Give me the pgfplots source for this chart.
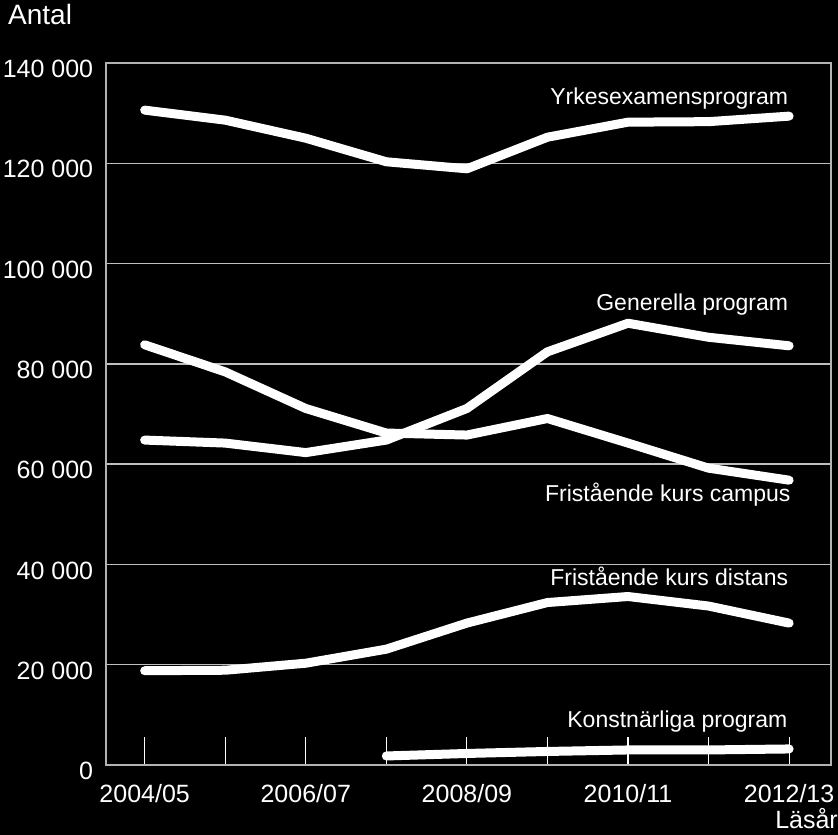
\documentclass[border=0pt]{standalone}
\usepackage{pgfplots}
\pgfplotsset{compat=1.18}
\usepackage{pgfplotstable}
\usepackage{fontspec}
\setmainfont{Liberation Sans}
\pgfplotstableread{
x yrk gen camp dist
0 130600 64800 83800 18800
1 128600 64200 78400 18900
2 125000 62300 71100 20300
3 120300 64800 66200 23100
4 118900 71100 65800 28300
5 125200 82400 69100 32400
6 128200 88100 64200 33600
7 128300 85300 59200 31700
8 129400 83600 56800 28300
}\datatab
\pgfplotstableread{
x konst
3 1800
4 2300
5 2700
6 3000
7 3000
8 3200
}\konsttab
\begin{document}
\fontsize{23bp}{27bp}\selectfont
\begin{tikzpicture}
\useasboundingbox (0,0) rectangle (838bp,835bp);
\fill[black] (0,0) rectangle (838bp,835bp);
\begin{axis}[
  at={(106bp,70bp)}, anchor=south west,
  scale only axis, width=725bp, height=702bp,
  xmin=-0.48, xmax=8.52, ymin=0, ymax=140000,
  axis line style={draw=white!70!black, line width=1.3bp},
  xtick={0,...,8},
  xticklabels={2004/05,,2006/07,,2008/09,,2010/11,,2012/13},
  xtick pos=bottom,
  major tick length=28bp,
  x tick style={white, line width=1.2bp},
  ytick={0,20000,...,140000},
  yticklabels={0,20 000,40 000,60 000,80 000,100 000,120 000,140 000},
  ytick style={draw=none},
  scaled y ticks=false,
  ymajorgrids, grid style={white!75!black, line width=1.3bp},
  tick label style={white, font=\fontsize{25bp}{29bp}\selectfont},
  yticklabel style={xshift=-5bp, yshift=-6bp},
  xticklabel style={anchor=north, yshift=-12bp},
  cycle list={{white, no markers}},
  every axis plot post/.append style={white, mark=none, line width=9bp, line cap=round, line join=round},
  clip=false
]
\addplot table[x=x, y=yrk] {\datatab};
\addplot table[x=x, y=gen] {\datatab};
\addplot table[x=x, y=camp] {\datatab};
\addplot table[x=x, y=dist] {\datatab};
\addplot table[x=x, y=konst] {\konsttab};
\node[anchor=base east, inner sep=0, white] at (axis cs:7.99,131800) {Yrkesexamensprogram};
\node[anchor=base east, inner sep=0, white] at (axis cs:7.99,90700) {Generella program};
\node[anchor=base east, inner sep=0, white] at (axis cs:8.02,52500) {Fristående kurs campus};
\node[anchor=base east, inner sep=0, white] at (axis cs:7.99,35700) {Fristående kurs distans};
\node[anchor=base east, inner sep=0, white] at (axis cs:7.98,7400) {Konstnärliga program};
\end{axis}
\node[anchor=base west, inner sep=0, white, font=\fontsize{28bp}{32bp}\selectfont] at (8bp,810bp) {Antal};
\node[anchor=base east, inner sep=0, white, font=\fontsize{25bp}{29bp}\selectfont] at (838bp,7bp) {Läsår};
\end{tikzpicture}
\end{document}
